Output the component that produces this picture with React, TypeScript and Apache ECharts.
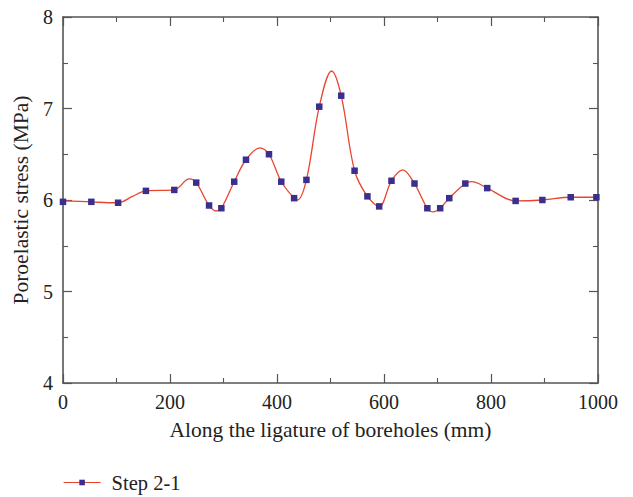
import React, { useEffect, useRef } from "react";
import * as echarts from "echarts";

// Marker positions (mm) and values (MPa)
const markerX = [0, 53, 103, 155, 208, 249, 273, 296, 320, 342, 385, 408, 432, 455, 479, 520, 545, 569, 591, 614, 657, 681, 705, 722, 752, 793, 846, 896, 949, 997];
const markerY = [5.98, 5.98, 5.97, 6.10, 6.11, 6.19, 5.94, 5.91, 6.20, 6.44, 6.50, 6.20, 6.02, 6.22, 7.02, 7.14, 6.32, 6.04, 5.93, 6.21, 6.18, 5.91, 5.91, 6.02, 6.18, 6.13, 5.99, 6.00, 6.03, 6.03];

// Smooth fitted curve
const curveX = [0, 53, 85, 103, 130, 155, 208, 236, 249, 273, 286, 296, 320, 342, 368, 385, 408, 432, 438, 455, 479, 502, 520, 545, 569, 591, 614, 635, 657, 681, 692, 705, 722, 752, 764, 793, 846, 896, 949, 1000];
const curveY = [5.99, 5.98, 5.97, 5.97, 6.04, 6.10, 6.11, 6.23, 6.19, 5.94, 5.88, 5.91, 6.20, 6.44, 6.57, 6.50, 6.20, 6.02, 6.00, 6.22, 7.02, 7.41, 7.14, 6.32, 6.04, 5.93, 6.21, 6.33, 6.18, 5.91, 5.87, 5.91, 6.02, 6.18, 6.20, 6.13, 5.99, 6.00, 6.03, 6.03];

const seriesName = "Step 2-1";
const xTitle = "Along the ligature of boreholes (mm)";
const yTitle = "Poroelastic stress (MPa)";

const FONT = "Liberation Serif";
const AXIS_COLOR = "#555";
const TEXT_COLOR = "#222";
const LINE_COLOR = "#E8452F";
const MARK_COLOR = "#3A2F8F";

export default function App() {
  const ref = useRef<HTMLDivElement>(null);
  useEffect(() => {
    if (!ref.current) return;
    const chart = echarts.init(ref.current, null, { renderer: "svg" });
    const axisCommon = {
      axisLine: { show: true, onZero: false, lineStyle: { color: AXIS_COLOR, width: 1.6 } },
      axisTick: { show: true, inside: true, length: 9, lineStyle: { color: AXIS_COLOR, width: 1.2 } },
      minorTick: { show: true, splitNumber: 2, length: 5, lineStyle: { color: AXIS_COLOR, width: 1.1 } },
      splitLine: { show: false },
    };
    chart.setOption({
      animation: false,
      backgroundColor: "#fff",
      textStyle: { fontFamily: FONT },
      grid: { left: 63, right: 35, top: 17, bottom: 114, containLabel: false },
      legend: {
        data: [{ name: seriesName }],
        left: 60,
        top: 472,
        padding: [0, 3, 0, 3],
        itemWidth: 37,
        itemHeight: 7,
        itemGap: 10,
        textStyle: { fontFamily: FONT, fontSize: 20.5, color: TEXT_COLOR, padding: [0, 0, 0, 6] },
        lineStyle: { color: LINE_COLOR, width: 1.2, opacity: 1 },
      },
      xAxis: [
        {
          type: "value",
          min: 0,
          max: 1000,
          interval: 200,
          position: "bottom",
          name: xTitle,
          nameLocation: "middle",
          nameGap: 36,
          nameTextStyle: { fontFamily: FONT, fontSize: 21.5, color: TEXT_COLOR },
          axisLabel: {
            fontFamily: FONT,
            fontSize: 20,
            color: TEXT_COLOR,
            margin: 9,
            formatter: (v: number) => String(v),
          },
          ...axisCommon,
        },
        {
          type: "value",
          min: 0,
          max: 1000,
          interval: 200,
          position: "top",
          axisLabel: { show: false },
          ...axisCommon,
        },
      ],
      yAxis: [
        {
          type: "value",
          min: 4,
          max: 8,
          interval: 1,
          position: "left",
          name: yTitle,
          nameLocation: "middle",
          nameGap: 30,
          nameTextStyle: { fontFamily: FONT, fontSize: 21.5, color: TEXT_COLOR },
          axisLabel: { fontFamily: FONT, fontSize: 20, color: TEXT_COLOR, margin: 10 },
          ...axisCommon,
        },
        {
          type: "value",
          min: 4,
          max: 8,
          interval: 1,
          position: "right",
          axisLabel: { show: false },
          ...axisCommon,
        },
      ],
      series: [
        {
          name: "curve",
          type: "line",
          data: curveX.map((x, i) => [x, curveY[i]]),
          showSymbol: false,
          symbol: "none",
          smooth: 0.35,
          lineStyle: { color: LINE_COLOR, width: 1.3 },
          z: 2,
        },
        {
          name: seriesName,
          type: "line",
          data: markerX.map((x, i) => [x, markerY[i]]),
          symbol: "rect",
          symbolSize: 6.5,
          showSymbol: true,
          itemStyle: { color: MARK_COLOR },
          lineStyle: { color: LINE_COLOR, opacity: 0 },
          z: 3,
        },
      ],
    });
    return () => chart.dispose();
  }, []);
  return (
    <div
      ref={ref}
      style={{ position: "absolute", left: 0, top: 0, width: 633, height: 497 }}
    />
  );
}
